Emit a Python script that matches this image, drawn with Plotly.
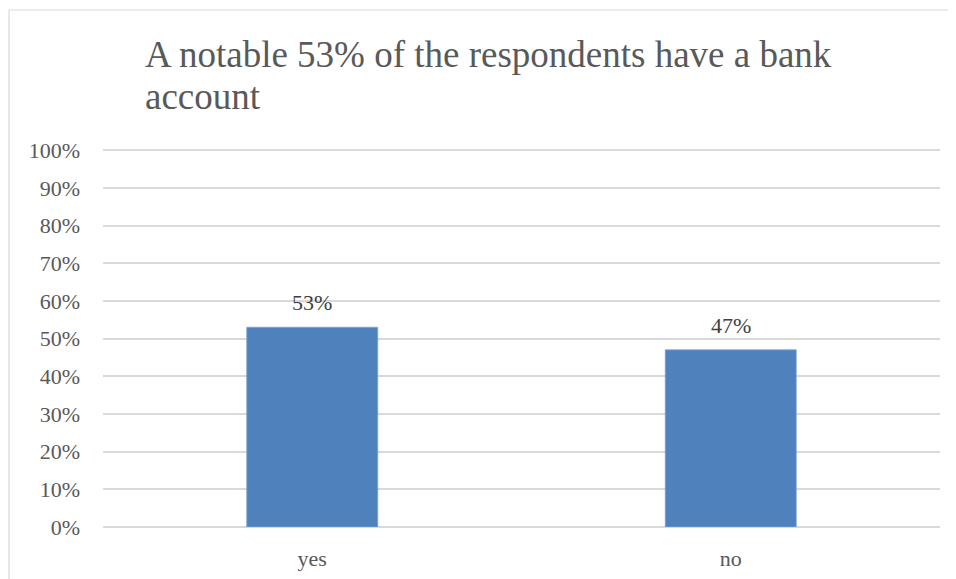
import plotly.graph_objects as go

categories = ["yes", "no"]
values = [0.53, 0.47]
value_labels = ["53%", "47%"]
tick_vals = [0, 0.1, 0.2, 0.3, 0.4, 0.5, 0.6, 0.7, 0.8, 0.9, 1.0]
tick_text = ["0%", "10%", "20%", "30%", "40%", "50%", "60%", "70%", "80%", "90%", "100%"]
title_lines = ["A notable 53% of the respondents have a bank", "account"]

FONT = "Liberation Serif, Times New Roman, serif"
GREY = "#595959"

# page has an 8px body margin; work in figure coordinates = page - 8
OFF = 8
W, H = 956 - OFF, 579 - OFF
L = 103 - OFF
T = 149 - OFF
R = W - (940 - OFF)
B = H - (527 - OFF)
pw, ph = W - L - R, H - T - B

def px_x(x):
    return (x - OFF - L) / pw

def px_y(y):
    return 1 - (y - OFF - T) / ph

fig = go.Figure()
fig.add_trace(go.Bar(
    x=categories, y=values,
    marker=dict(color="#4F81BD", line=dict(color="#7FA3D3", width=0.8)),
    width=0.313,
    hoverinfo="skip",
))

for c, v, t in zip(categories, values, value_labels):
    fig.add_annotation(x=c, y=v, text=t, showarrow=False, yanchor="bottom",
                       yshift=10, font=dict(family=FONT, size=22, color="#404040"))

for i, line in enumerate(title_lines):
    fig.add_annotation(xref="paper", yref="paper", x=px_x(143), y=px_y(32 + 42 * i),
                       xanchor="left", yanchor="top", align="left", showarrow=False,
                       text=line, font=dict(family=FONT, size=37, color=GREY))

bx = px_x(9)
ty = px_y(10)
fig.add_shape(type="line", xref="paper", yref="paper", x0=bx, x1=bx, y0=px_y(600), y1=ty,
              line=dict(color="#d9d9d9", width=1.2))
fig.add_shape(type="line", xref="paper", yref="paper", x0=bx, x1=px_x(980), y0=ty, y1=ty,
              line=dict(color="#d9d9d9", width=1.2))

fig.update_layout(
    width=W, height=H,
    margin=dict(l=L, r=R, t=T, b=B, autoexpand=False),
    paper_bgcolor="white", plot_bgcolor="white",
    showlegend=False,
    xaxis=dict(showgrid=False, showline=False, ticks="", zeroline=False,
               automargin=False,
               tickfont=dict(family=FONT, size=22, color=GREY),
               ticklabelstandoff=16),
    yaxis=dict(range=[0, 1.003], tickvals=tick_vals, ticktext=tick_text,
               automargin=False,
               showgrid=True, gridcolor="#d9d9d9", gridwidth=1.5,
               zeroline=True, zerolinecolor="#d9d9d9", zerolinewidth=1.5,
               showline=False, ticks="",
               tickfont=dict(family=FONT, size=22, color=GREY),
               ticklabelstandoff=22),
)

fig.write_html("out.html")
